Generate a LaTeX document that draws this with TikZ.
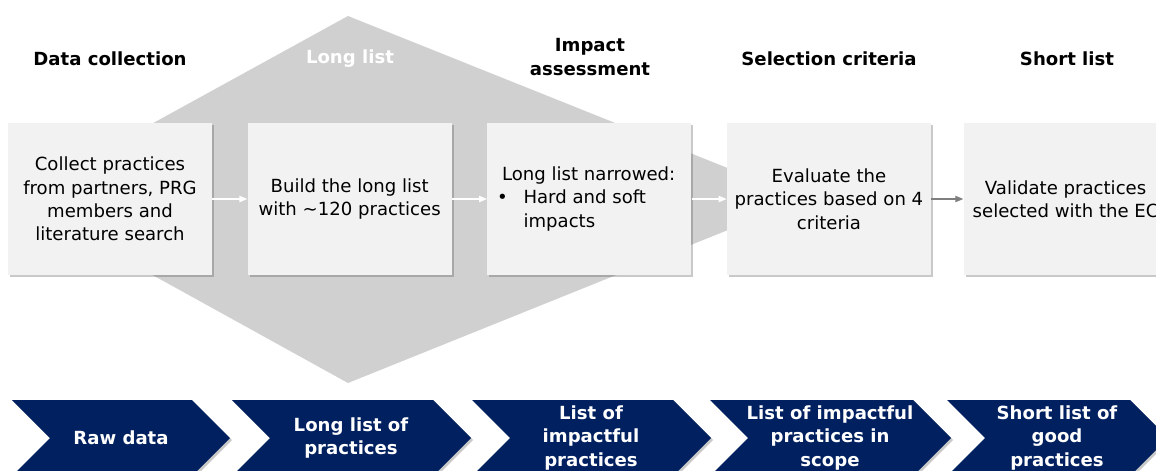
\documentclass[tikz,border=0pt]{standalone}
\usepackage{fontspec}
\setmainfont{DejaVu Sans}
\usetikzlibrary{arrows.meta, positioning, shadows}
\definecolor{KiteGray}{HTML}{D0D0D0}
\definecolor{BoxFill}{HTML}{F2F2F2}
\definecolor{DeepNavy}{HTML}{002060}
\definecolor{ArrowGray}{HTML}{7F7F7F}

\begin{document}
\begin{tikzpicture}[x=0.02cm, y=-0.02cm,
  node distance=0.7cm,
  step_box/.style={rectangle, fill=BoxFill, minimum width=4.08cm,
    minimum height=3.04cm, align=center, inner sep=2pt,
    font=\fontsize{10.3}{13.3}\selectfont,
    drop shadow={shadow xshift=1.2pt, shadow yshift=-1.2pt, opacity=0.3, fill=black!70}},
  flow_arrow/.style={-{Triangle[length=4.5pt, width=3.6pt]}, white, line width=0.6pt},
  head_label/.style={font=\bfseries\fontsize{10.3}{13.3}\selectfont, align=center},
  chevron/.style={fill=DeepNavy,
    drop shadow={shadow xshift=1.2pt, shadow yshift=-1.2pt, opacity=0.3, fill=black!70}},
  chevron_label/.style={font=\bfseries\fontsize{10.3}{13.3}\selectfont, text=white, align=center}
]
  \useasboundingbox (0,0) rectangle (1156,470);
  \clip (0,0) rectangle (1156,470);

  \fill[KiteGray] (15,199) -- (348,16) -- (805,199) -- (348,383) -- cycle;

  \node[step_box] (collect) at (110,199) {Collect practices\\from partners, PRG\\members and\\literature search};
  \node[step_box, right=of collect] (longlist) {Build the long list\\with \char`~120 practices};
  \node[step_box, right=of longlist, align=left] (narrow) {\hspace*{2.8pt}Long list narrowed:\hspace*{3.5pt}\\\makebox[15pt][l]{\textbullet}Hard and soft\\\hspace*{15pt}impacts};
  \node[step_box, right=of narrow] (evaluate) {Evaluate the\\practices based on 4\\criteria};
  \node[step_box, right=0.64cm of evaluate] (validate) {Validate practices\\selected with the EC};

  \draw[flow_arrow] (collect) -- (longlist);
  \draw[flow_arrow] (longlist) -- (narrow);
  \draw[flow_arrow] (narrow) -- (evaluate);
  \draw[flow_arrow, ArrowGray] (evaluate) -- (validate);

  \node[head_label] (h_collect) at (110,59) {Data collection};
  \node[head_label, text=white] (h_long) at (350,59) {Long list};
  \node[head_label] (h_impact) at (590,57) {Impact\\assessment};
  \node[head_label] (h_select) at (829,59) {Selection criteria};
  \node[head_label] (h_short) at (1067,59) {Short list};

  \fill[chevron] (12,400) -- (192,400) -- (230,438) -- (192,476) -- (12,476) -- (50,438) -- cycle;
  \fill[chevron] (232,400) -- (433,400) -- (471,438) -- (433,476) -- (232,476) -- (270,438) -- cycle;
  \fill[chevron] (472,400) -- (673,400) -- (711,438) -- (673,476) -- (472,476) -- (510,438) -- cycle;
  \fill[chevron] (710,400) -- (913,400) -- (951,438) -- (913,476) -- (710,476) -- (748,438) -- cycle;
  \fill[chevron] (947,400) -- (1130,400) -- (1168,438) -- (1130,476) -- (947,476) -- (985,438) -- cycle;

  \node[chevron_label] (c_raw) at (121,438) {Raw data};
  \node[chevron_label] (c_long) at (351,438) {Long list of\\practices};
  \node[chevron_label] (c_impact) at (591,438) {List of\\impactful\\practices};
  \node[chevron_label] (c_scope) at (830,438) {List of impactful\\practices in\\scope};
  \node[chevron_label] (c_good) at (1057,438) {Short list of\\good\\practices};

\end{tikzpicture}
\end{document}
